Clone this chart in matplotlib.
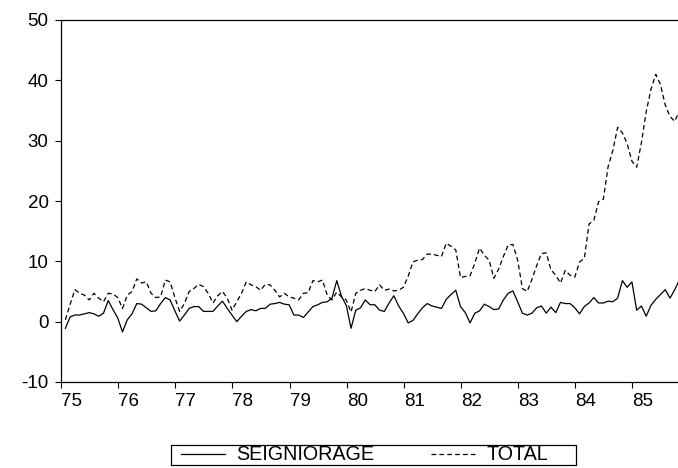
import numpy as np
import matplotlib
matplotlib.use("Agg")
import matplotlib.pyplot as plt
from matplotlib.patches import Rectangle

plt.rcParams['font.family'] = ['Liberation Sans', 'DejaVu Sans']
plt.rcParams['axes.unicode_minus'] = False

# monthly observations, 1975M01 onwards
seigniorage = [
    -1.1, 0.8, 1.1, 1.1, 1.3, 1.5, 1.3, 0.9, 1.4, 3.5, 2.0, 0.6,
    -1.7, 0.3, 1.3, 3.0, 2.9, 2.3, 1.7, 1.8, 3.0, 4.0, 3.6, 1.8,
    0.1, 1.1, 2.2, 2.5, 2.5, 1.7, 1.7, 1.7, 2.6, 3.4, 2.2, 1.1,
    0.0, 0.9, 1.7, 2.0, 1.8, 2.2, 2.2, 2.9, 3.0, 3.2, 2.9, 2.8,
    1.1, 1.1, 0.7, 1.6, 2.5, 2.8, 3.2, 3.3, 3.9, 6.8, 4.2, 2.7,
    -1.1, 1.9, 2.3, 3.6, 2.8, 2.8, 1.9, 1.7, 3.1, 4.3, 2.6, 1.4,
    -0.2, 0.2, 1.3, 2.3, 3.0, 2.6, 2.4, 2.2, 3.7, 4.5, 5.2, 2.5,
    1.5, -0.2, 1.4, 1.8, 2.9, 2.5, 2.0, 2.1, 3.6, 4.7, 5.1, 3.3,
    1.4, 1.1, 1.4, 2.3, 2.6, 1.4, 2.4, 1.5, 3.2, 3.0, 3.0, 2.3,
    1.3, 2.5, 3.1, 4.0, 3.1, 3.1, 3.4, 3.3, 3.9, 6.8, 5.7, 6.6,
    1.9, 2.6, 0.9, 2.7, 3.7, 4.5, 5.3, 3.9, 5.3, 7.0,
]
total = [
    0.3, 2.9, 5.3, 4.7, 4.4, 3.6, 4.7, 3.9, 3.3, 4.7, 4.6, 4.0,
    2.2, 4.4, 5.0, 7.1, 6.4, 6.6, 4.7, 4.0, 4.1, 6.9, 6.6, 4.0,
    1.7, 3.0, 5.0, 5.5, 6.2, 5.8, 4.7, 3.1, 4.3, 5.0, 3.9, 1.9,
    3.3, 4.7, 6.6, 6.1, 5.8, 5.2, 6.2, 6.1, 5.2, 4.1, 4.7, 4.1,
    3.9, 3.6, 4.7, 4.8, 6.8, 6.6, 6.9, 4.4, 3.6, 4.9, 4.1, 3.6,
    1.6, 4.7, 5.2, 5.5, 5.2, 5.0, 6.1, 5.2, 5.4, 5.1, 5.2, 5.7,
    7.5, 9.9, 10.2, 10.3, 11.2, 11.2, 11.0, 10.8, 13.0, 12.5, 11.9, 7.3,
    7.5, 7.6, 9.7, 12.2, 11.0, 10.2, 7.2, 8.7, 10.8, 12.7, 12.8, 10.2,
    5.5, 5.0, 7.0, 9.3, 11.3, 11.4, 8.6, 7.7, 6.4, 8.5, 7.7, 7.4,
    9.9, 10.5, 16.2, 16.8, 19.9, 20.3, 25.7, 28.4, 32.2, 31.3, 29.5, 26.6,
    25.6, 29.7, 34.8, 38.5, 41.0, 39.3, 35.9, 34.0, 33.2, 35.0,
]
years = list(range(75, 86))
year_labels = [str(y) for y in years]

t = 75 + (np.arange(len(total)) + 0.92) / 12.0

W, H = 678, 468
fig = plt.figure(figsize=(W/100, H/100), dpi=100)
ax = fig.add_axes([61/W, 1 - 382/H, (W - 61)/W, (382 - 20)/H])

ax.plot(t, seigniorage, color='black', lw=0.9, label='SEIGNIORAGE')
ax.plot(t, total, color='black', lw=0.9, dashes=(3.8, 2.5), label='TOTAL')

ax.set_xlim(75, 85.8)
ax.set_ylim(-10, 50)
ax.set_yticks(range(-10, 51, 10))
ax.set_xticks(years)
ax.set_xticklabels(year_labels)
for lbl in ax.get_xticklabels():
    lbl.set_ha('left')
ax.tick_params(direction='out', length=4, width=0.8, labelsize=13.5, colors='black')
ax.tick_params(axis='x', pad=4)
ax.tick_params(axis='y', pad=5)
ax.spines['right'].set_visible(False)
for s in ['left', 'bottom', 'top']:
    ax.spines[s].set_linewidth(0.9)

# legend entries without frame, box drawn separately
leg = fig.legend(loc='center', bbox_to_anchor=(364.5/W, 1 - 455/H), ncol=2,
                 fontsize=14.2, frameon=False, handlelength=2.23,
                 handletextpad=0.6, columnspacing=2.84, borderpad=0.0)
fig.patches.append(Rectangle((171/W, 1 - 465/H), (576 - 171)/W, 20/H,
                             transform=fig.transFigure, fill=False,
                             edgecolor='black', lw=0.9))

fig.savefig('out.png', dpi=100)
